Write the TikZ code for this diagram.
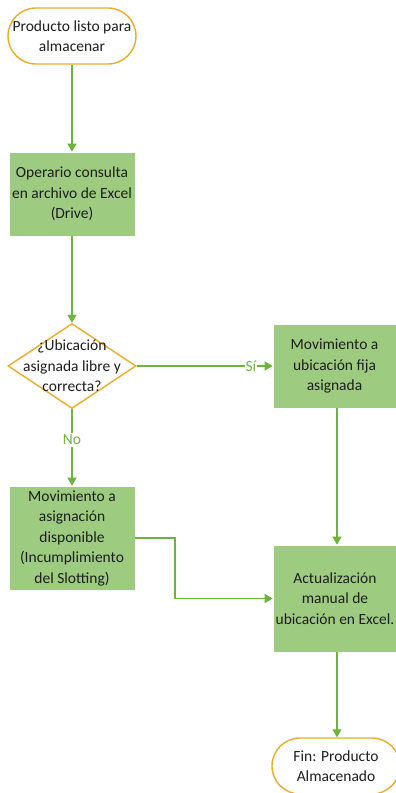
\documentclass[tikz,border=0pt]{standalone}
\usepackage{fontspec}
\setmainfont{Carlito}
\usetikzlibrary{shapes.geometric,arrows.meta}
\definecolor{stepgreen}{HTML}{9DCB80}
\definecolor{linegreen}{HTML}{6DB33F}
\definecolor{termorange}{HTML}{E8AC2A}
\definecolor{txt}{HTML}{1E1E1E}
\tikzset{
  x=1pt, y=1pt,
  every node/.style={font=\fontsize{15.5}{20.5}\selectfont, text=txt, align=center, inner sep=0pt},
  terminal/.style={draw=termorange, line width=1.4pt, fill=white, rounded corners=28pt, minimum width=128pt, minimum height=56pt},
  stepbox/.style={fill=stepgreen, draw=white, line width=0.6pt},
  decision/.style={diamond, draw=termorange, line width=1.4pt, fill=white, minimum width=128pt, minimum height=85pt, aspect=1.5},
  flow/.style={draw=linegreen, line width=1.2pt, -{Triangle[length=8pt,width=9pt]}},
  flowlabel/.style={text=linegreen}
}
\begin{document}
\begin{tikzpicture}
\useasboundingbox (0,0) rectangle (396,-793);
% process steps
\node[terminal] (start) at (72,-36) {Producto listo para\\almacenar};
\node[stepbox, minimum width=126pt, minimum height=84pt] (consult) at (72,-194) {Operario consulta\\en archivo de Excel\\(Drive)};
\node[decision] (check) at (72,-366) {};
\node at (72,-366) {¿Ubicación\\asignada libre y\\correcta?};
\node[stepbox, minimum width=123pt, minimum height=84pt] (fixed) at (334.5,-366) {Movimiento a\\ubicación fija\\asignada};
\node[stepbox, minimum width=126pt, minimum height=104pt] (other) at (72,-538) {Movimiento a\\asignación\\disponible\\(Incumplimiento\\del Slotting)};
\node[stepbox, minimum width=124pt, minimum height=107pt] (update) at (335,-598.5) {Actualización\\manual de\\ubicación en Excel.};
\node[terminal] (finish) at (336,-766) {Fin: Producto\\Almacenado};
% connectors
\draw[flow] (start) -- (consult);
\draw[flow] (consult) -- (check.north);
\draw[flow] (check.east) -- node[flowlabel, pos=0.84, fill=white, inner sep=1pt] {Sí} (fixed.west);
\draw[flow] (check.south) -- node[flowlabel, pos=0.4, fill=white, inner sep=2pt] {No} (other.north);
\coordinate (bend) at (175,-538);
\draw[flow] (other.east) -- (bend) |- (update.west);
\draw[flow] (fixed.south -| 337,0) -- (update.north -| 337,0);
\draw[flow] (update.south -| 337,0) -- (finish.north -| 337,0);
\end{tikzpicture}
\end{document}
